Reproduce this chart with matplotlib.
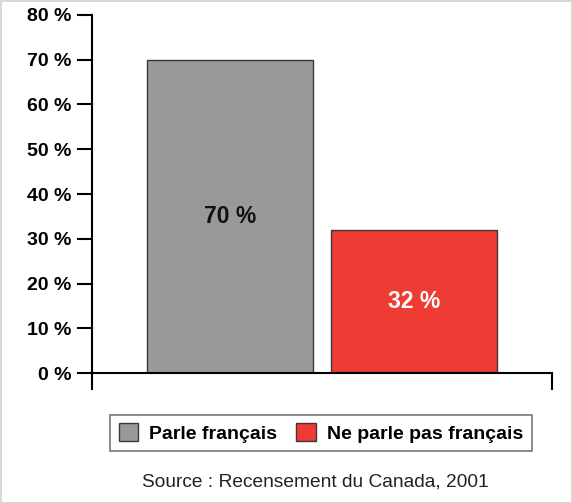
import matplotlib
matplotlib.use("Agg")
import matplotlib.pyplot as plt
from matplotlib.patches import Patch

categories = ["Parle français", "Ne parle pas français"]
values = [70, 32]
colors = ["#999999", "#EE3B33"]
label_colors = ["#111111", "#ffffff"]
yticks = [0, 10, 20, 30, 40, 50, 60, 70, 80]
source = "Source : Recensement du Canada, 2001"

plt.rcParams['font.family'] = ['Liberation Sans', 'DejaVu Sans']

fig = plt.figure(figsize=(5.72, 5.03), dpi=100)
fig.patch.set_edgecolor("#d8d8d8")
fig.patch.set_linewidth(2)
ax = fig.add_axes([0.1608, 0.2584, 0.8042, 0.7118])

x = list(range(len(values)))
ax.bar(x, values, width=0.9, color=colors, edgecolor="#3a3a3a", linewidth=1.0, zorder=2)
for xi, v, c in zip(x, values, label_colors):
    ax.text(xi, v / 2, f"{v} %", ha="center", va="center", fontsize=16.5,
            fontweight="bold", color=c, zorder=3)

ax.set_xlim(-0.75, 1.75)
ax.set_ylim(0, 80)
ax.set_yticks(yticks)
ax.set_yticklabels([f"{t} %" for t in yticks], fontsize=14, fontweight="bold")
ax.tick_params(axis="y", length=11, width=1.5, direction="out", pad=4)
ax.set_xticks([-0.75, 1.75])
ax.set_xticklabels([])
ax.tick_params(axis="x", length=12, width=1.5, direction="out")
for s in ["top", "right"]:
    ax.spines[s].set_visible(False)
for s in ["left", "bottom"]:
    ax.spines[s].set_linewidth(1.5)

handles = [Patch(facecolor=c, edgecolor="#3a3a3a", label=l) for c, l in zip(colors, categories)]
leg = fig.legend(handles=handles, loc="center", bbox_to_anchor=(0.561, 0.1392), ncol=2,
                 frameon=True, fancybox=False, edgecolor="#555555",
                 prop={"weight": "bold", "size": 14}, handlelength=1.0, handleheight=1.0,
                 columnspacing=1.0, handletextpad=0.55, borderpad=0.45)
leg.get_frame().set_linewidth(1.2)

fig.text(0.5515, 0.0417, source, ha="center", va="center", fontsize=13.8, color="#222222")

fig.savefig("out.png", dpi=100)
